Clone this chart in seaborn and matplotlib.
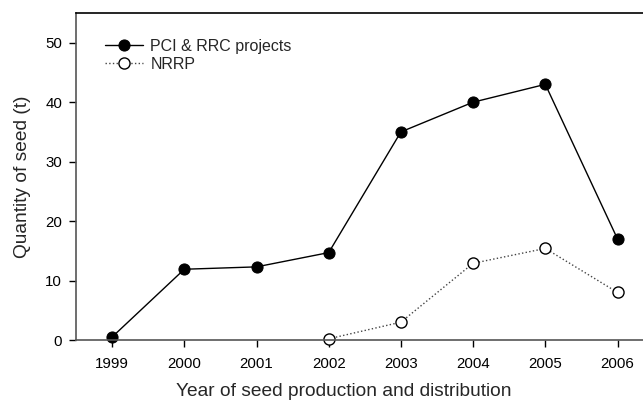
import numpy as np
import pandas as pd
import matplotlib
matplotlib.use("Agg")
import matplotlib.pyplot as plt
import seaborn as sns

# values
years_pci = [1999, 2000, 2001, 2002, 2003, 2004, 2005, 2006]
seed_pci = [0.5, 11.9, 12.3, 14.7, 35.0, 40.0, 43.0, 17.0]
years_nrrp = [2002, 2003, 2004, 2005, 2006]
seed_nrrp = [0.2, 3.0, 12.9, 15.4, 8.0]

sns.set_style("ticks")
plt.rcParams['font.family'] = ['Liberation Sans', 'DejaVu Sans']

fig = plt.figure(figsize=(6.43, 4.01), dpi=100)
# right edge of the frame sits just beyond the picture, as in the reference
ax = fig.add_axes([76 / 643, 1 - 340 / 401, 577.6 / 643, 327 / 401])

df_pci = pd.DataFrame({"year": years_pci, "seed": seed_pci})
df_nrrp = pd.DataFrame({"year": years_nrrp, "seed": seed_nrrp})

sns.lineplot(data=df_pci, x="year", y="seed", ax=ax, color="black", lw=1,
             marker="o", markersize=8, markerfacecolor="black",
             markeredgecolor="black", label="PCI & RRC projects", clip_on=False)
sns.lineplot(data=df_nrrp, x="year", y="seed", ax=ax, color="#444444", lw=1,
             linestyle=":", marker="o", markersize=8, markerfacecolor="white",
             markeredgecolor="black", markeredgewidth=1, label="NRRP", clip_on=False)

ax.set_xlim(1998.5, 2006.5)
ax.set_ylim(0, 55)
ax.set_xticks(years_pci)
ax.set_yticks([0, 10, 20, 30, 40, 50])
ax.tick_params(direction="out", length=5, width=1, labelsize=10.8, colors="black")
ax.tick_params(axis="x", pad=7)
ax.tick_params(axis="y", pad=5)
for s in ax.spines.values():
    s.set_linewidth(1.2)
    s.set_color("black")
ax.spines["left"].set_color("#555555")
ax.spines["bottom"].set_color("#555555")

ax.set_xlabel("Year of seed production and distribution", fontsize=13.8)
ax.xaxis.set_label_coords(0.464, -0.131)
ax.set_ylabel("Quantity of seed (t)", fontsize=13.8, labelpad=10)

leg = ax.legend(loc="upper left", bbox_to_anchor=(0.05, 0.921), frameon=False,
                fontsize=11.5, handlelength=2.4, handletextpad=0.45, labelspacing=0.2,
                borderpad=0, borderaxespad=0)

fig.savefig("out.png", dpi=100)
